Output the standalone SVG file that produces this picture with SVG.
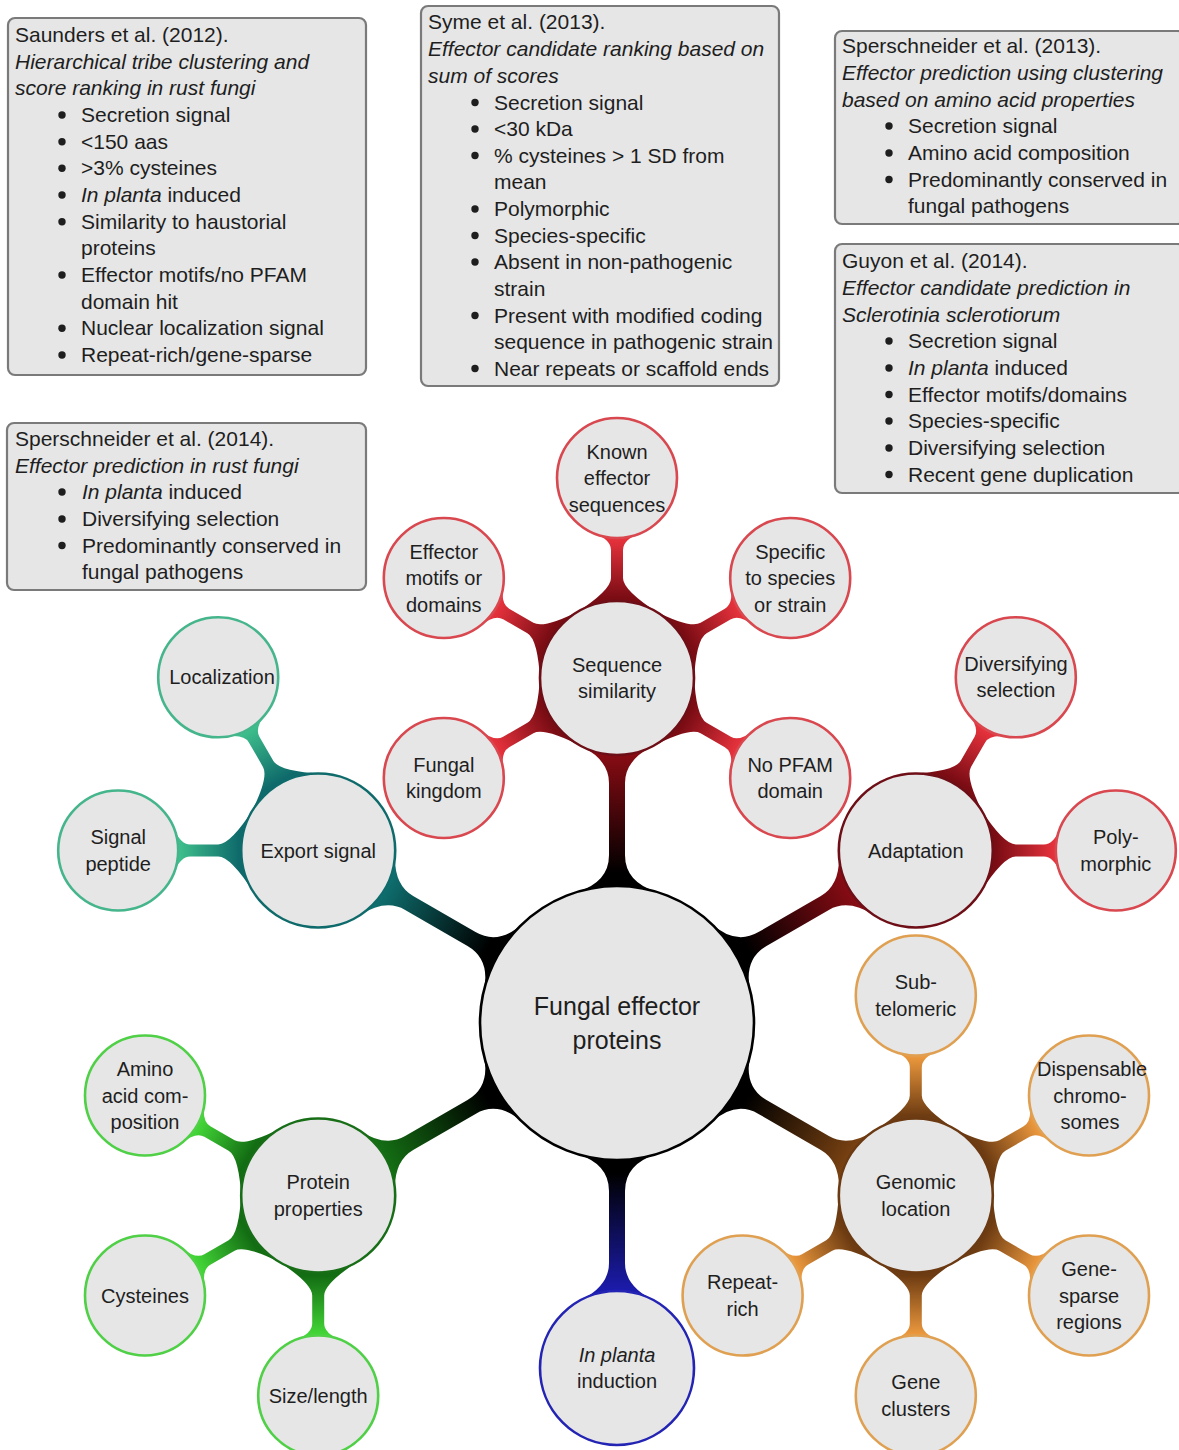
<svg xmlns="http://www.w3.org/2000/svg" width="1179" height="1450" viewBox="0 0 1179 1450">
<defs>
<style>
text { font-family: "Liberation Sans", Arial, sans-serif; fill: #1e1e1e; }
.box { fill: #e6e6e6; stroke: #7a7a7a; stroke-width: 2.2; }
.bt { font-size: 21px; }
.bul { fill: #1e1e1e; }
.it { font-style: italic; }
.lbl { font-size: 20px; text-anchor: middle; }
.rootl { font-size: 25px; text-anchor: middle; }
.c { fill: #e6e6e6; stroke-width: 2.6; }
.c0 { stroke: #000; }
.rd1 { stroke: #6e0e16; } .rd2 { stroke: #d9474f; }
.tl1 { stroke: #0f6b6b; } .tl2 { stroke: #45b58c; }
.gr1 { stroke: #176e17; } .gr2 { stroke: #4fd046; }
.bl1 { stroke: #2424b4; }
.br1 { stroke: #6b3a12; } .br2 { stroke: #e0a052; }
</style>
<circle id="b" class="bul" r="3.7"/>
<path id="k1" d="M131,-40.1 Q140.8,-8 168,-8 L240,-8 Q262.6,-8 276.4,-35 L276.4,35 Q262.6,8 240,8 L168,8 Q140.8,8 131,40.1 Z"/>
<path id="k2" d="M64.6,-41.9 Q87.6,-6 100,-6 L128,-6 Q137.9,-6 144.4,-22.5 L144.4,22.5 Q137.9,6 128,6 L100,6 Q87.6,6 64.6,41.9 Z"/>
<linearGradient id="gR1" gradientUnits="userSpaceOnUse" x1="150" y1="0" x2="270" y2="0"><stop offset="0" stop-color="#000"/><stop offset="1" stop-color="#8a0c14"/></linearGradient>
<linearGradient id="gT1" gradientUnits="userSpaceOnUse" x1="150" y1="0" x2="270" y2="0"><stop offset="0" stop-color="#000"/><stop offset="1" stop-color="#0f7070"/></linearGradient>
<linearGradient id="gG1" gradientUnits="userSpaceOnUse" x1="150" y1="0" x2="270" y2="0"><stop offset="0" stop-color="#000"/><stop offset="1" stop-color="#147014"/></linearGradient>
<linearGradient id="gB1" gradientUnits="userSpaceOnUse" x1="150" y1="0" x2="270" y2="0"><stop offset="0" stop-color="#000"/><stop offset="1" stop-color="#1c1cb0"/></linearGradient>
<linearGradient id="gO1" gradientUnits="userSpaceOnUse" x1="150" y1="0" x2="270" y2="0"><stop offset="0" stop-color="#000"/><stop offset="1" stop-color="#7a4212"/></linearGradient>
<linearGradient id="gR2" gradientUnits="userSpaceOnUse" x1="80" y1="0" x2="140" y2="0"><stop offset="0" stop-color="#7a0c14"/><stop offset="1" stop-color="#e8333d"/></linearGradient>
<linearGradient id="gT2" gradientUnits="userSpaceOnUse" x1="80" y1="0" x2="140" y2="0"><stop offset="0" stop-color="#0f6b6b"/><stop offset="1" stop-color="#3fc08c"/></linearGradient>
<linearGradient id="gG2" gradientUnits="userSpaceOnUse" x1="80" y1="0" x2="140" y2="0"><stop offset="0" stop-color="#136d13"/><stop offset="1" stop-color="#44d838"/></linearGradient>
<linearGradient id="gO2" gradientUnits="userSpaceOnUse" x1="80" y1="0" x2="140" y2="0"><stop offset="0" stop-color="#6e3c12"/><stop offset="1" stop-color="#ee9a3e"/></linearGradient>
</defs>
<rect width="1179" height="1450" fill="#fff"/>

<g id="box-saunders">
<rect class="box" x="8" y="18" width="358" height="357" rx="7"/>
<text class="bt"><tspan x="15" y="42">Saunders et al. (2012).</tspan><tspan class="it" x="15" y="68.7">Hierarchical tribe clustering and</tspan><tspan class="it" x="15" y="95.3">score ranking in rust fungi</tspan></text>
<use href="#b" x="62" y="115"/><use href="#b" x="62" y="141.7"/><use href="#b" x="62" y="168.3"/><use href="#b" x="62" y="195"/><use href="#b" x="62" y="221.7"/><use href="#b" x="62" y="275"/><use href="#b" x="62" y="328.3"/><use href="#b" x="62" y="355"/>
<text class="bt"><tspan x="81" y="122">Secretion signal</tspan><tspan x="81" y="148.7">&lt;150 aas</tspan><tspan x="81" y="175.3">&gt;3% cysteines</tspan><tspan x="81" y="202"><tspan class="it">In planta</tspan> induced</tspan><tspan x="81" y="228.7">Similarity to haustorial</tspan><tspan x="81" y="255.3">proteins</tspan><tspan x="81" y="282">Effector motifs/no PFAM</tspan><tspan x="81" y="308.7">domain hit</tspan><tspan x="81" y="335.3">Nuclear localization signal</tspan><tspan x="81" y="362">Repeat-rich/gene-sparse</tspan></text>
</g>

<g id="box-syme">
<rect class="box" x="421" y="6" width="358" height="380" rx="7"/>
<text class="bt"><tspan x="428" y="29">Syme et al. (2013).</tspan><tspan class="it" x="428" y="56">Effector candidate ranking based on</tspan><tspan class="it" x="428" y="82.5">sum of scores</tspan></text>
<use href="#b" x="475" y="102.5"/><use href="#b" x="475" y="129"/><use href="#b" x="475" y="155.5"/><use href="#b" x="475" y="209"/><use href="#b" x="475" y="235.5"/><use href="#b" x="475" y="262"/><use href="#b" x="475" y="315.5"/><use href="#b" x="475" y="368.5"/>
<text class="bt"><tspan x="494" y="109.5">Secretion signal</tspan><tspan x="494" y="136">&lt;30 kDa</tspan><tspan x="494" y="162.5">% cysteines &gt; 1 SD from</tspan><tspan x="494" y="189">mean</tspan><tspan x="494" y="216">Polymorphic</tspan><tspan x="494" y="242.5">Species-specific</tspan><tspan x="494" y="269">Absent in non-pathogenic</tspan><tspan x="494" y="295.5">strain</tspan><tspan x="494" y="322.5">Present with modified coding</tspan><tspan x="494" y="349">sequence in pathogenic strain</tspan><tspan x="494" y="375.5">Near repeats or scaffold ends</tspan></text>
</g>

<g id="box-sperschneider2013">
<rect class="box" x="835" y="31" width="350" height="193" rx="7"/>
<text class="bt"><tspan x="842" y="53">Sperschneider et al. (2013).</tspan><tspan class="it" x="842" y="80">Effector prediction using clustering</tspan><tspan class="it" x="842" y="106.5">based on amino acid properties</tspan></text>
<use href="#b" x="889" y="126"/><use href="#b" x="889" y="153"/><use href="#b" x="889" y="179.5"/>
<text class="bt"><tspan x="908" y="133">Secretion signal</tspan><tspan x="908" y="160">Amino acid composition</tspan><tspan x="908" y="186.5">Predominantly conserved in</tspan><tspan x="908" y="213">fungal pathogens</tspan></text>
</g>

<g id="box-guyon">
<rect class="box" x="835" y="244" width="350" height="249" rx="7"/>
<text class="bt"><tspan x="842" y="268">Guyon et al. (2014).</tspan><tspan class="it" x="842" y="295">Effector candidate prediction in</tspan><tspan class="it" x="842" y="321.5">Sclerotinia sclerotiorum</tspan></text>
<use href="#b" x="889" y="341"/><use href="#b" x="889" y="368"/><use href="#b" x="889" y="394.5"/><use href="#b" x="889" y="421"/><use href="#b" x="889" y="448"/><use href="#b" x="889" y="474.5"/>
<text class="bt"><tspan x="908" y="348">Secretion signal</tspan><tspan x="908" y="375"><tspan class="it">In planta</tspan> induced</tspan><tspan x="908" y="401.5">Effector motifs/domains</tspan><tspan x="908" y="428">Species-specific</tspan><tspan x="908" y="455">Diversifying selection</tspan><tspan x="908" y="481.5">Recent gene duplication</tspan></text>
</g>

<g id="box-sperschneider2014">
<rect class="box" x="7" y="423" width="359" height="167" rx="7"/>
<text class="bt"><tspan x="15" y="446">Sperschneider et al. (2014).</tspan><tspan class="it" x="15" y="472.5">Effector prediction in rust fungi</tspan></text>
<use href="#b" x="62" y="492"/><use href="#b" x="62" y="519"/><use href="#b" x="62" y="545.5"/>
<text class="bt"><tspan x="82" y="499"><tspan class="it">In planta</tspan> induced</tspan><tspan x="82" y="526">Diversifying selection</tspan><tspan x="82" y="552.5">Predominantly conserved in</tspan><tspan x="82" y="579">fungal pathogens</tspan></text>
</g>

<g id="connectors">
<use href="#k1" transform="translate(617,1023) rotate(-90)" fill="url(#gR1)"/>
<use href="#k1" transform="translate(617,1023) rotate(-150)" fill="url(#gT1)"/>
<use href="#k1" transform="translate(617,1023) rotate(-30)" fill="url(#gR1)"/>
<use href="#k1" transform="translate(617,1023) rotate(150)" fill="url(#gG1)"/>
<use href="#k1" transform="translate(617,1023) rotate(90)" fill="url(#gB1)"/>
<use href="#k1" transform="translate(617,1023) rotate(30)" fill="url(#gO1)"/>
<use href="#k2" transform="translate(617,678) rotate(-90)" fill="url(#gR2)"/>
<use href="#k2" transform="translate(617,678) rotate(-150)" fill="url(#gR2)"/>
<use href="#k2" transform="translate(617,678) rotate(-30)" fill="url(#gR2)"/>
<use href="#k2" transform="translate(617,678) rotate(150)" fill="url(#gR2)"/>
<use href="#k2" transform="translate(617,678) rotate(30)" fill="url(#gR2)"/>
<use href="#k2" transform="translate(318.2,850.5) rotate(-120)" fill="url(#gT2)"/>
<use href="#k2" transform="translate(318.2,850.5) rotate(180)" fill="url(#gT2)"/>
<use href="#k2" transform="translate(915.8,850.5) rotate(-60)" fill="url(#gR2)"/>
<use href="#k2" transform="translate(915.8,850.5) rotate(0)" fill="url(#gR2)"/>
<use href="#k2" transform="translate(318.2,1195.5) rotate(-150)" fill="url(#gG2)"/>
<use href="#k2" transform="translate(318.2,1195.5) rotate(150)" fill="url(#gG2)"/>
<use href="#k2" transform="translate(318.2,1195.5) rotate(90)" fill="url(#gG2)"/>
<use href="#k2" transform="translate(915.8,1195.5) rotate(-90)" fill="url(#gO2)"/>
<use href="#k2" transform="translate(915.8,1195.5) rotate(-30)" fill="url(#gO2)"/>
<use href="#k2" transform="translate(915.8,1195.5) rotate(30)" fill="url(#gO2)"/>
<use href="#k2" transform="translate(915.8,1195.5) rotate(90)" fill="url(#gO2)"/>
<use href="#k2" transform="translate(915.8,1195.5) rotate(150)" fill="url(#gO2)"/>
</g>

<g id="node-root"><circle class="c c0" cx="617" cy="1023" r="137"/><text class="rootl"><tspan x="617" y="1014.5">Fungal effector</tspan><tspan x="617" y="1048.5">proteins</tspan></text></g>

<g id="node-sequence-similarity"><circle class="c rd1" cx="617" cy="678" r="77"/><text class="lbl"><tspan x="617" y="671.5">Sequence</tspan><tspan x="617" y="698">similarity</tspan></text></g>
<g id="node-export-signal"><circle class="c tl1" cx="318.2" cy="850.5" r="77"/><text class="lbl" x="318.2" y="857.5">Export signal</text></g>
<g id="node-adaptation"><circle class="c rd1" cx="915.8" cy="850.5" r="77"/><text class="lbl" x="915.8" y="857.5">Adaptation</text></g>
<g id="node-protein-properties"><circle class="c gr1" cx="318.2" cy="1195.5" r="77"/><text class="lbl"><tspan x="318.2" y="1189">Protein</tspan><tspan x="318.2" y="1215.5">properties</tspan></text></g>
<g id="node-in-planta"><circle class="c bl1" cx="617" cy="1368" r="77"/><text class="lbl"><tspan class="it" x="617" y="1361.5">In planta</tspan><tspan x="617" y="1388">induction</tspan></text></g>
<g id="node-genomic-location"><circle class="c br1" cx="915.8" cy="1195.5" r="77"/><text class="lbl"><tspan x="915.8" y="1189">Genomic</tspan><tspan x="915.8" y="1215.5">location</tspan></text></g>

<g id="node-known-effector"><circle class="c rd2" cx="617" cy="478" r="60"/><text class="lbl"><tspan x="617" y="458.5">Known</tspan><tspan x="617" y="485">effector</tspan><tspan x="617" y="511.5">sequences</tspan></text></g>
<g id="node-effector-motifs"><circle class="c rd2" cx="443.8" cy="578" r="60"/><text class="lbl"><tspan x="443.8" y="558.5">Effector</tspan><tspan x="443.8" y="585">motifs or</tspan><tspan x="443.8" y="611.5">domains</tspan></text></g>
<g id="node-specific"><circle class="c rd2" cx="790.2" cy="578" r="60"/><text class="lbl"><tspan x="790.2" y="558.5">Specific</tspan><tspan x="790.2" y="585">to species</tspan><tspan x="790.2" y="611.5">or strain</tspan></text></g>
<g id="node-fungal-kingdom"><circle class="c rd2" cx="443.8" cy="778" r="60"/><text class="lbl"><tspan x="443.8" y="771.5">Fungal</tspan><tspan x="443.8" y="798">kingdom</tspan></text></g>
<g id="node-no-pfam"><circle class="c rd2" cx="790.2" cy="778" r="60"/><text class="lbl"><tspan x="790.2" y="771.5">No PFAM</tspan><tspan x="790.2" y="798">domain</tspan></text></g>

<g id="node-localization"><circle class="c tl2" cx="218.2" cy="677.3" r="60"/><text class="lbl" x="222" y="684.3">Localization</text></g>
<g id="node-signal-peptide"><circle class="c tl2" cx="118.2" cy="850.5" r="60"/><text class="lbl"><tspan x="118.2" y="844">Signal</tspan><tspan x="118.2" y="870.5">peptide</tspan></text></g>

<g id="node-diversifying"><circle class="c rd2" cx="1015.8" cy="677.3" r="60"/><text class="lbl"><tspan x="1016" y="670.8">Diversifying</tspan><tspan x="1016" y="697.3">selection</tspan></text></g>
<g id="node-polymorphic"><circle class="c rd2" cx="1115.8" cy="850.5" r="60"/><text class="lbl"><tspan x="1115.8" y="844">Poly-</tspan><tspan x="1115.8" y="870.5">morphic</tspan></text></g>

<g id="node-amino-acid"><circle class="c gr2" cx="145" cy="1095.5" r="60"/><text class="lbl"><tspan x="145" y="1076">Amino</tspan><tspan x="145" y="1102.5">acid com-</tspan><tspan x="145" y="1129">position</tspan></text></g>
<g id="node-cysteines"><circle class="c gr2" cx="145" cy="1295.5" r="60"/><text class="lbl" x="145" y="1302.5">Cysteines</text></g>
<g id="node-size-length"><circle class="c gr2" cx="318.2" cy="1395.5" r="60"/><text class="lbl" x="318.2" y="1402.5">Size/length</text></g>

<g id="node-subtelomeric"><circle class="c br2" cx="915.8" cy="995.5" r="60"/><text class="lbl"><tspan x="915.8" y="989">Sub-</tspan><tspan x="915.8" y="1015.5">telomeric</tspan></text></g>
<g id="node-dispensable"><circle class="c br2" cx="1089" cy="1095.5" r="60"/><text class="lbl"><tspan x="1092" y="1076">Dispensable</tspan><tspan x="1090" y="1102.5">chromo-</tspan><tspan x="1090" y="1129">somes</tspan></text></g>
<g id="node-gene-sparse"><circle class="c br2" cx="1089" cy="1295.5" r="60"/><text class="lbl"><tspan x="1089" y="1276">Gene-</tspan><tspan x="1089" y="1302.5">sparse</tspan><tspan x="1089" y="1329">regions</tspan></text></g>
<g id="node-gene-clusters"><circle class="c br2" cx="915.8" cy="1395.5" r="60"/><text class="lbl"><tspan x="915.8" y="1389">Gene</tspan><tspan x="915.8" y="1415.5">clusters</tspan></text></g>
<g id="node-repeat-rich"><circle class="c br2" cx="742.6" cy="1295.5" r="60"/><text class="lbl"><tspan x="742.6" y="1289">Repeat-</tspan><tspan x="742.6" y="1315.5">rich</tspan></text></g>
</svg>
